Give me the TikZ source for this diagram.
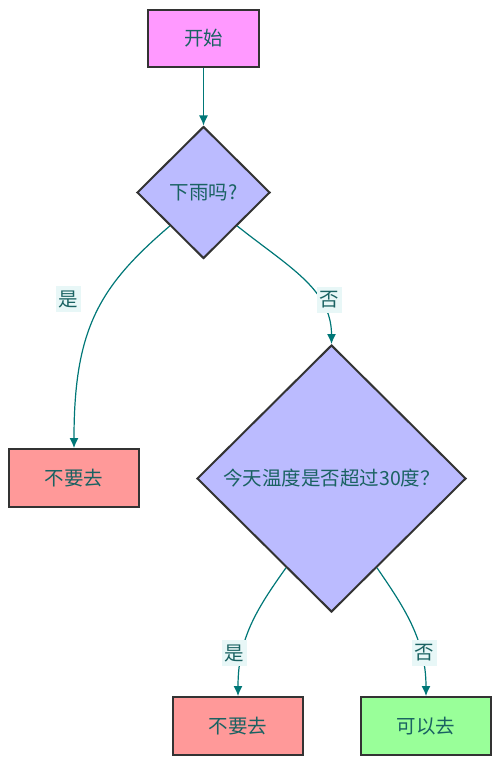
\documentclass[tikz,border=0pt]{standalone}
\usepackage{fontspec}
\setmainfont{Noto Sans CJK SC}
\usetikzlibrary{shapes.geometric,arrows.meta}
\definecolor{startpink}{HTML}{FF99FF}
\definecolor{askblue}{HTML}{BBBBFF}
\definecolor{nored}{HTML}{FF9999}
\definecolor{yesgreen}{HTML}{99FF99}
\definecolor{edgeteal}{HTML}{007777}
\definecolor{textteal}{HTML}{1A6262}
\definecolor{labelbg}{HTML}{E8F7F7}
\definecolor{boxline}{HTML}{333333}
\tikzset{
  chart font/.style={font=\fontsize{19.5pt}{23pt}\selectfont},
  box/.style={rectangle, draw=boxline, line width=2pt, minimum width=130pt, minimum height=58pt, inner sep=0pt, text=textteal, chart font},
  ask/.style={diamond, draw=boxline, line width=2pt, fill=askblue, inner sep=0pt, text=textteal, chart font},
  answer/.style={fill=labelbg, text=textteal, minimum width=25pt, minimum height=26pt, inner sep=0pt, chart font},
  flow/.style={draw=edgeteal, line width=1.2pt, -{Latex[length=10pt,width=9pt]}}
}
\begin{document}
\begin{tikzpicture}[x=1pt,y=-1pt]
  \useasboundingbox (0,0) rectangle (500,765);
  \node[box,fill=startpink,minimum width=111pt,minimum height=57pt] (start) at (203.5,38.5) {开始};
  \node[ask,minimum width=133pt,minimum height=132pt] (rain) at (203.5,192.5) {下雨吗?};
  \node[box,fill=nored] (stay1) at (74,478) {不要去};
  \node[ask,minimum width=269pt,minimum height=267pt] (hot) at (331.5,478.5) {今天温度是否超过30度？};
  \node[box,fill=nored] (stay2) at (238,726) {不要去};
  \node[box,fill=yesgreen] (go) at (426,726) {可以去};

  \draw[flow] (start) -- (rain);
  \draw[flow] (rain.south west) .. controls +(-70,60) and +(0,-120) .. (stay1.north);
  \draw[flow] (rain.south east) .. controls +(50,40) and +(0,-55) .. (hot.north);
  \draw[flow] (hot.-117) .. controls +(-30,42) and +(0,-57) .. (stay2.north);
  \draw[flow] (hot.-63) .. controls +(26,38) and +(0,-57) .. (go.north);

  \node[answer] (yes1) at (68.5,299) {是};
  \node[answer] (no1) at (329.5,300) {否};
  \node[answer] (yes2) at (234.5,653) {是};
  \node[answer] (no2) at (424.5,653) {否};
\end{tikzpicture}
\end{document}
